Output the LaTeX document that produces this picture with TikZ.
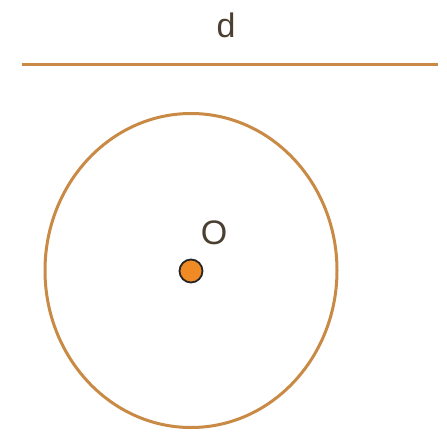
\documentclass[tikz,border=0pt]{standalone}
\usepackage{fontspec}
\setmainfont{Liberation Sans}
\definecolor{brownline}{HTML}{C98A45}
\definecolor{dotfill}{HTML}{F08A24}
\definecolor{txt}{HTML}{4A3F30}
\begin{document}
\begin{tikzpicture}[x=1pt,y=-1pt,
  geom/.style={draw=brownline,line width=3pt},
  lbl/.style={text=txt,font=\fontsize{34}{34}\selectfont,inner sep=0pt}]
\useasboundingbox (0,0) rectangle (447,431);
\coordinate (l1) at (22,64);
\coordinate (l2) at (438,64);
\draw[geom] (l1) -- (l2);
\node[lbl] (d) at (226,25) {d};
\coordinate (c) at (191,270.5);
\draw[geom] (c) ellipse [x radius=146, y radius=157];
\node[circle,draw=black!85,fill=dotfill,line width=1.8pt,minimum size=23pt,inner sep=0pt] (O) at (191,271) {};
\node[lbl] (Olbl) at (214,233) {O};
\end{tikzpicture}
\end{document}
